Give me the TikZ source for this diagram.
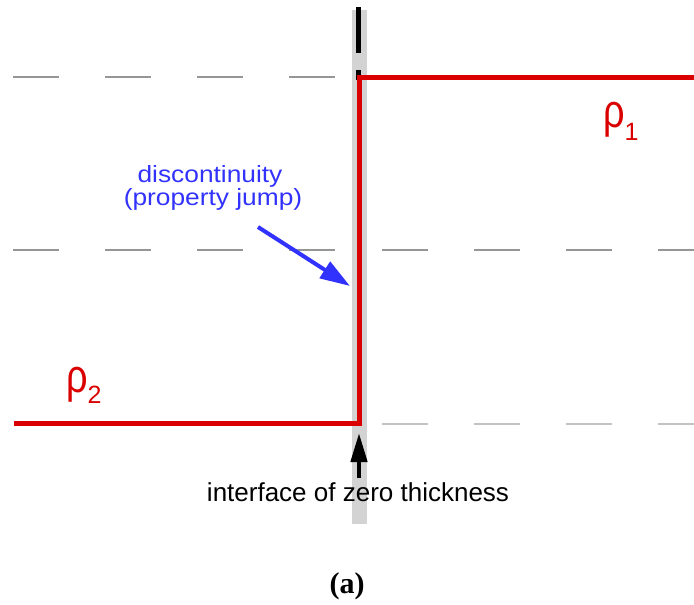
\documentclass[tikz,border=0pt]{standalone}
\usepackage{fontspec}
\setmainfont{Liberation Sans}
\newfontfamily\capfont{Liberation Serif}
\usetikzlibrary{arrows.meta}
\definecolor{jred}{RGB}{218,0,0}
\definecolor{jblue}{RGB}{50,50,255}
\definecolor{band}{RGB}{211,211,211}
\definecolor{dashg}{RGB}{150,150,150}
\definecolor{dashl}{RGB}{195,195,195}
\tikzset{
  guide/.style={draw=dashg,line width=1.3pt,dash pattern=on 46pt off 46pt},
  guidelight/.style={draw=dashl,line width=1.3pt,dash pattern=on 46pt off 46pt},
  profile/.style={draw=jred,line width=5pt,miter limit=10},
  lbl/.style={font=\fontsize{26}{30}\selectfont,inner sep=0pt},
  bluelbl/.style={text=jblue,inner sep=0pt,anchor=base},
  rholbl/.style={text=jred,inner sep=0pt,anchor=base west},
}
\newcommand{\bluetext}[1]{\scalebox{1.12}[1]{\fontsize{23.5}{27}\selectfont #1}}
\newcommand{\rhoglyph}{\scalebox{0.9}[1.12]{\fontsize{42}{46}\selectfont ρ}}
\begin{document}
\begin{tikzpicture}[x=1pt,y=-1pt]
\useasboundingbox (0,0) rectangle (694,605);
% interface band
\fill[band] (351.5,10) rectangle (366.5,524);
% guide lines
\draw[guide] (13,77) -- (340,77);
\draw[guide] (13,250) -- (340,250);
\draw[guide] (382,250) -- (694,250);
\draw[guidelight] (382,424) -- (694,424);
% black marks on the interface
\draw[line width=4.5pt] (358.5,7) -- (358.5,53);
\draw[line width=4.5pt] (358.5,70) -- (358.5,80);
% property profile
\draw[profile] (694,77) -- (359,77) -- (359,423) -- (14,423);
% labels
\node[rholbl] (rho1) at (603,127) {\rhoglyph\raisebox{-13pt}{\fontsize{25}{28}\selectfont 1}};
\node[rholbl] (rho2) at (66,392) {\rhoglyph\raisebox{-11pt}{\fontsize{25}{28}\selectfont 2}};
\node[bluelbl] (disc) at (210,182) {\bluetext{discontinuity}};
\node[bluelbl] (jump) at (213,205) {\bluetext{(property jump)}};
\node[lbl,anchor=base] (iface) at (358,501.5) {interface of zero thickness};
\node[inner sep=0pt,anchor=base] (cap) at (347,593) {\capfont\bfseries\fontsize{30}{34}\selectfont (a)};
% arrows
\coordinate (btail) at (258,227);
\coordinate (btip) at (350,286);
\draw[jblue,line width=4pt,-{Triangle[length=30pt,width=19pt]}] (btail) -- (btip);
\coordinate (ktail) at (359,478);
\coordinate (ktip) at (359,433);
\draw[black,line width=4.5pt,-{Triangle[length=29pt,width=16pt]}] (ktail) -- (ktip);
\end{tikzpicture}
\end{document}
